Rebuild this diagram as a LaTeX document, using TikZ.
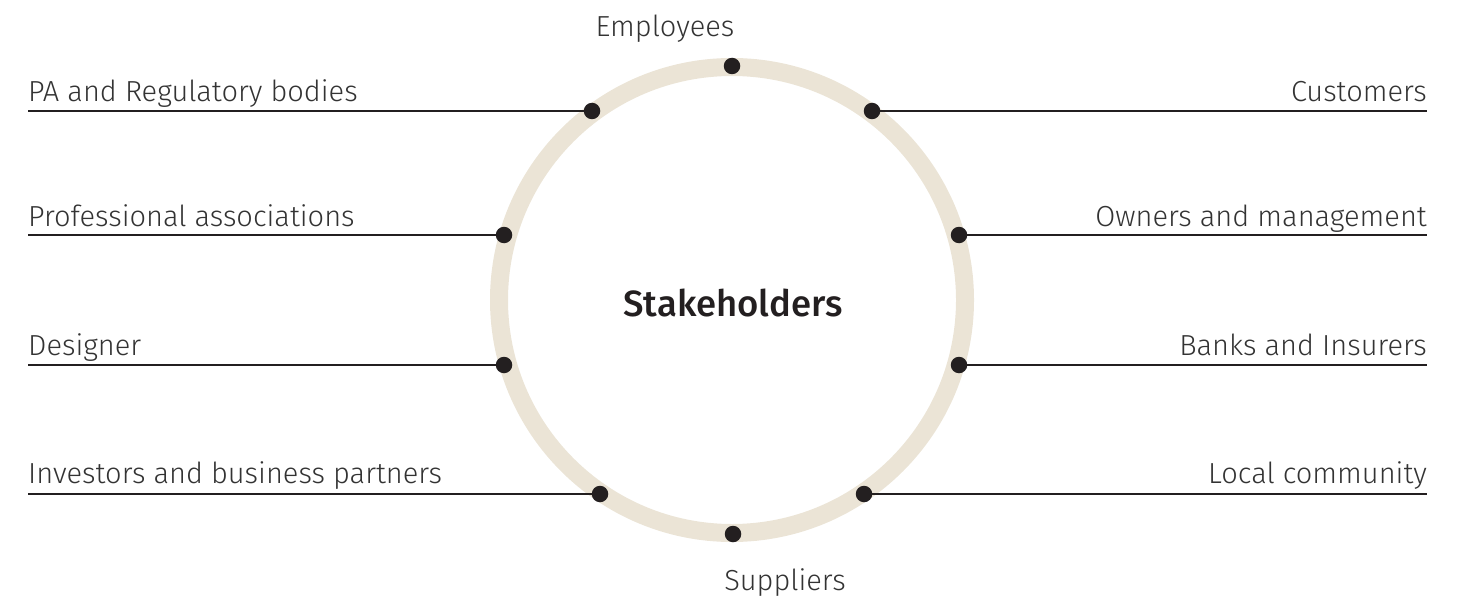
\documentclass[tikz,border=0pt]{standalone}
\usepackage{fontspec}
\setmainfont{Fira Sans}[UprightFont=* Light, BoldFont=* Medium]
\definecolor{ring}{HTML}{EBE4D6}
\definecolor{ink}{HTML}{231F20}
\definecolor{txt}{HTML}{333333}
\begin{document}
\begin{tikzpicture}[x=1pt,y=-1pt,
  dot/.style={circle,fill=ink,inner sep=0pt,minimum size=16.5pt},
  lbl/.style={font=\fontsize{29}{32}\selectfont,text=txt,inner sep=0pt},
  conn/.style={draw=ink,line width=1.3pt}]
\useasboundingbox (0,0) rectangle (1461,599);
\draw[ring,line width=18pt] (732,300) circle[radius=233];
\node[font=\bfseries\fontsize{36.5}{40}\selectfont,text=ink,inner sep=0pt,anchor=base] (center) at (733,316) {Stakeholders};
% dots
\node[dot] (emp) at (732,66) {};
\node[dot] (pa) at (592,111) {};
\node[dot] (cus) at (872,111) {};
\node[dot] (pro) at (504,235) {};
\node[dot] (own) at (959,235) {};
\node[dot] (des) at (504,365) {};
\node[dot] (ban) at (959,365) {};
\node[dot] (inv) at (600,494) {};
\node[dot] (loc) at (864,494) {};
\node[dot] (sup) at (733,534) {};
% line ends
\coordinate (paL) at (28,111);
\coordinate (proL) at (28,235);
\coordinate (desL) at (28,365);
\coordinate (invL) at (28,494);
\coordinate (cusR) at (1427,111);
\coordinate (ownR) at (1427,235);
\coordinate (banR) at (1427,365);
\coordinate (locR) at (1427,494);
\draw[conn] (paL) -- (pa);
\draw[conn] (proL) -- (pro);
\draw[conn] (desL) -- (des);
\draw[conn] (invL) -- (inv);
\draw[conn] (cus) -- (cusR);
\draw[conn] (own) -- (ownR);
\draw[conn] (ban) -- (banR);
\draw[conn] (loc) -- (locR);
% labels
\node[lbl,anchor=base west] (tpa) at (28,102) {PA and Regulatory bodies};
\node[lbl,anchor=base west] (tpro) at (28,226) {Professional associations};
\node[lbl,anchor=base west] (tdes) at (28,355) {Designer};
\node[lbl,anchor=base west] (tinv) at (28,483) {Investors and business partners};
\node[lbl,anchor=base east] (tcus) at (1427,102) {Customers};
\node[lbl,anchor=base east] (town) at (1427,226) {Owners and management};
\node[lbl,anchor=base east] (tban) at (1427,355) {Banks and Insurers};
\node[lbl,anchor=base east] (tloc) at (1427,483) {Local community};
\node[lbl,anchor=base] (temp) at (665,37) {Employees};
\node[lbl,anchor=base] (tsup) at (785,590) {Suppliers};
\end{tikzpicture}
\end{document}
